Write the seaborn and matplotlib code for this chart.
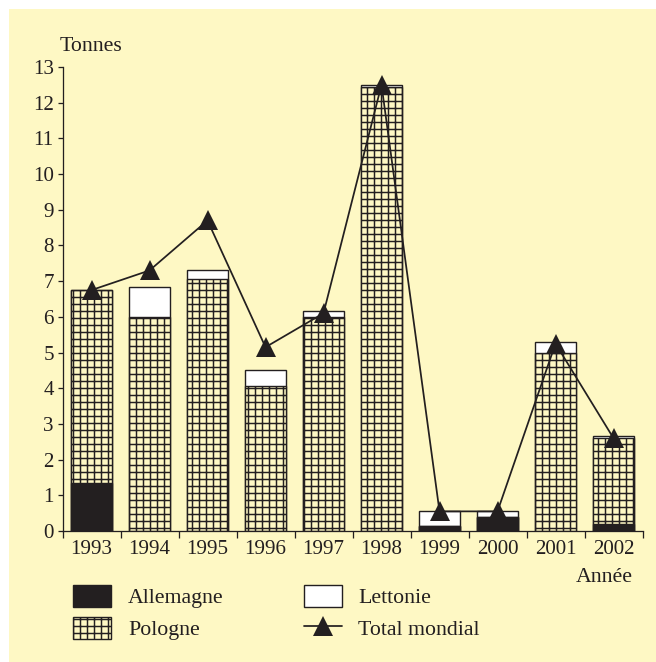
import matplotlib
matplotlib.use("Agg")
import matplotlib.pyplot as plt
import seaborn as sns
import numpy as np
from matplotlib.patches import Patch, Rectangle
from matplotlib.lines import Line2D

years = ['1993', '1994', '1995', '1996', '1997', '1998', '1999', '2000', '2001', '2002']
allemagne = [1.35, 0, 0, 0, 0, 0, 0.15, 0.4, 0, 0.2]
pologne = [5.4, 6.0, 7.05, 4.05, 6.0, 12.45, 0, 0, 5.0, 2.4]
lettonie = [0, 0.85, 0.25, 0.45, 0.15, 0.05, 0.4, 0.15, 0.3, 0.05]
total_mondial = [6.75, 7.3, 8.7, 5.15, 6.1, 12.5, 0.55, 0.55, 5.25, 2.6]
yticks = list(range(0, 14))
labels = ['Allemagne', 'Pologne', 'Lettonie', 'Total mondial']

BG = '#FEF8C4'
INK = '#231F20'
DPI = 84
W, H = 656, 662

sns.set_style('ticks')
plt.rcParams['font.family'] = ['Liberation Serif', 'DejaVu Serif']
plt.rcParams['hatch.linewidth'] = 1.25
plt.rcParams['hatch.color'] = INK
plt.rcParams['text.color'] = INK
FS = 18
FS2 = 18.8

fig = plt.figure(figsize=(W / DPI, H / DPI), dpi=DPI, facecolor='white')
fig.patches.append(Rectangle((9 / W, 0), 1, 1 - 9 / H, transform=fig.transFigure,
                             facecolor=BG, edgecolor='none', zorder=-10))
ax = fig.add_axes([62.5 / W, 1 - 531 / H, 580 / W, (531 - 67) / H])
ax.set_facecolor(BG)
ax.patch.set_alpha(0)

a = np.array(allemagne)
p = np.array(pologne)
l = np.array(lettonie)
cum_ap = a + p
cum_all = a + p + l

sns.barplot(x=years, y=cum_all, color='white', edgecolor=INK, linewidth=1.2,
            width=0.7, saturation=1, ax=ax, order=years)
sns.barplot(x=years, y=cum_ap, color=BG, edgecolor=INK, linewidth=1.2, hatch='++',
            width=0.7, saturation=1, ax=ax, order=years)
sns.barplot(x=years, y=a, color=INK, edgecolor=INK, linewidth=1.2,
            width=0.7, saturation=1, ax=ax, order=years)
for patch in ax.patches:
    if patch.get_height() <= 0:
        patch.set_visible(False)

sns.pointplot(x=years, y=total_mondial, color=INK, markers='^', markersize=17,
              linewidth=1.5, errorbar=None, ax=ax, order=years, markeredgewidth=0)

ax.set_xlim(-0.5, 9.5)
ax.set_ylim(0, 13)
ax.set_yticks(yticks)
ax.set_yticklabels([str(t) for t in yticks], fontsize=FS)
ax.set_xticks(range(len(years)))
ax.set_xticklabels(years, fontsize=FS)
ax.set_xticks(np.arange(-0.5, 10, 1), minor=True)
ax.tick_params(axis='x', which='major', length=0, pad=8, colors=INK)
ax.tick_params(axis='x', which='minor', length=6, width=1.1, color=INK)
ax.tick_params(axis='y', length=4.5, width=1.1, pad=3, colors=INK)
ax.set_xlabel('')
ax.set_ylabel('')
for s in ['top', 'right']:
    ax.spines[s].set_visible(False)
for s in ['left', 'bottom']:
    ax.spines[s].set_color(INK)
    ax.spines[s].set_linewidth(1.1)

fig.text(60 / W, 1 - 51 / H, 'Tonnes', fontsize=FS2, va='baseline', ha='left')
fig.text(633 / W, 1 - 582 / H, 'Année', fontsize=FS2, va='baseline', ha='right')

handles = [
    Patch(facecolor=INK, edgecolor=INK, linewidth=1.2),
    Patch(facecolor=BG, edgecolor=INK, hatch='++', linewidth=1.2),
    Patch(facecolor='white', edgecolor=INK, linewidth=1.2),
    Line2D([], [], color=INK, marker='^', markersize=17, linewidth=1.5, markeredgewidth=0),
]
fig.legend(handles, labels, loc='upper left', bbox_to_anchor=(73 / W, 1 - 585 / H),
           ncol=2, frameon=False, fontsize=FS2, handlelength=1.75, handleheight=1.15,
           handletextpad=0.75, columnspacing=3.65, labelspacing=0.4, borderpad=0,
           borderaxespad=0)

fig.savefig('out.png', dpi=DPI, facecolor='white')
